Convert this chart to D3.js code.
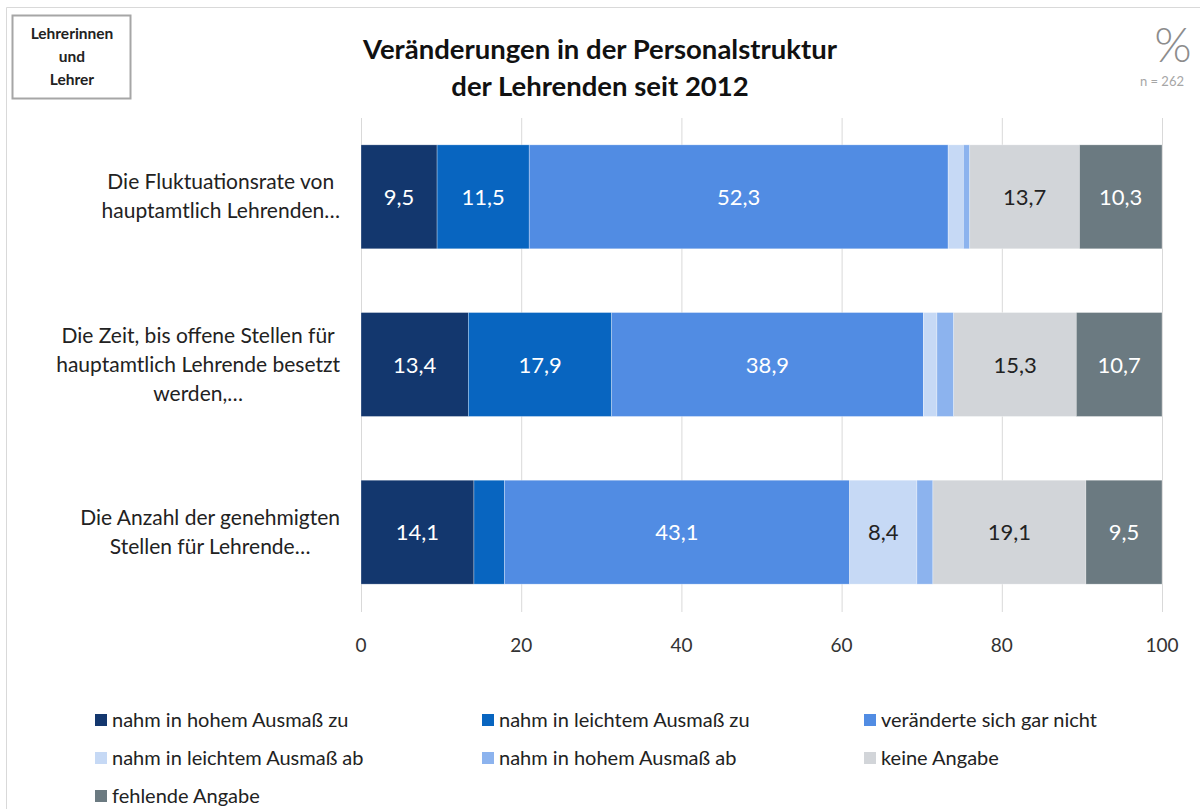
<!DOCTYPE html>
<html>
<head>
  <meta charset="utf-8">
  <script src="https://cdnjs.cloudflare.com/ajax/libs/d3/7.8.5/d3.min.js"></script>
  <style>
    body { margin: 0; background: #fff; font-family: Lato, "Open Sans", sans-serif; }
    .grid line { stroke: #d9d9d9; stroke-width: 1; }
    .tick-label { font-size: 19px; fill: #333; }
    .cat-label { font-size: 21px; fill: #222; }
    .legend text { font-size: 20px; fill: #222; }
    .value { font-size: 22px; }
  </style>
</head>
<body>
  <div id="chart"></div>
  <script>
    // Data
    const categories = [
      ["Die Fluktuationsrate von", "hauptamtlich Lehrenden…"],
      ["Die Zeit, bis offene Stellen für", "hauptamtlich Lehrende besetzt", "werden,…"],
      ["Die Anzahl der genehmigten", "Stellen für Lehrende…"]
    ];
    const seriesNames = [
      "nahm in hohem Ausmaß zu",
      "nahm in leichtem Ausmaß zu",
      "veränderte sich gar nicht",
      "nahm in leichtem Ausmaß ab",
      "nahm in hohem Ausmaß ab",
      "keine Angabe",
      "fehlende Angabe"
    ];
    const seriesColors = ["#13376e", "#0865c0", "#518ce3", "#c6d9f5", "#8cb3ee", "#d2d5d9", "#6b7a81"];
    const labelColors = ["#fff", "#fff", "#fff", "#222", "#222", "#222", "#fff"];
    // values per category, in series order
    const values = [
      [9.5, 11.5, 52.3, 1.9, 0.8, 13.7, 10.3],
      [13.4, 17.9, 38.9, 1.7, 2.1, 15.3, 10.7],
      [14.1, 3.8, 43.1, 8.4, 2.0, 19.1, 9.5]
    ];
    const ticks = [0, 20, 40, 60, 80, 100];
    const minLabel = 5; // segments smaller than this are not labelled

    const W = 1200, H = 809;
    const svg = d3.select("#chart").append("svg")
      .attr("width", W).attr("height", H);

    // outer frame
    svg.append("path")
      .attr("d", `M6.5,${H} V7.5 H${W}`)
      .attr("fill", "none").attr("stroke", "#d9d9d9");

    // group badge
    svg.append("rect")
      .attr("x", 12.5).attr("y", 15.5).attr("width", 118).attr("height", 83)
      .attr("fill", "#fff").attr("stroke", "#a6a6a6").attr("stroke-width", 2);
    svg.append("text")
      .attr("text-anchor", "middle")
      .style("font-size", "15.5px").style("font-weight", "bold").attr("fill", "#222")
      .selectAll("tspan").data(["Lehrerinnen", "und", "Lehrer"]).join("tspan")
        .attr("x", 72).attr("y", (d, i) => 39 + i * 23).text(d => d);

    // title
    svg.append("text")
      .attr("text-anchor", "middle")
      .style("font-size", "27.5px").style("font-weight", "bold").attr("fill", "#111")
      .selectAll("tspan").data(["Veränderungen in der Personalstruktur", "der Lehrenden seit 2012"]).join("tspan")
        .attr("x", 600).attr("y", (d, i) => 59 + i * 37).text(d => d);

    // percent sign and n
    svg.append("text")
      .attr("x", 1173).attr("y", 62).attr("text-anchor", "middle")
      .style("font-size", "48px").style("font-weight", "300").attr("fill", "#8c8c8c")
      .text("%");
    svg.append("text")
      .attr("x", 1184).attr("y", 86).attr("text-anchor", "end")
      .style("font-size", "13px").attr("fill", "#a6a6a6")
      .text("n = 262");

    // scales
    const x = d3.scaleLinear().domain([0, 100]).range([361, 1162]);
    const y = d3.scaleBand().domain(d3.range(categories.length)).range([113, 616]).paddingInner(0.38).paddingOuter(0.19);

    // grid
    svg.append("g").attr("class", "grid")
      .selectAll("line").data(ticks).join("line")
        .attr("x1", d => x(d) + 0.5).attr("x2", d => x(d) + 0.5)
        .attr("y1", 118).attr("y2", 612);

    svg.append("g")
      .selectAll("text").data(ticks).join("text")
        .attr("class", "tick-label")
        .attr("x", d => x(d)).attr("y", 652)
        .attr("text-anchor", "middle")
        .text(d => d);

    // stacked bars
    const rows = values.map((vals, ci) => {
      let acc = 0;
      return vals.map((v, si) => {
        const seg = {ci, si, x0: acc, x1: acc + v, v};
        acc += v;
        return seg;
      });
    });

    const rowG = svg.append("g").selectAll("g").data(rows).join("g");
    rowG.selectAll("rect").data(d => d).join("rect")
      .attr("x", d => x(d.x0))
      .attr("y", d => y(d.ci))
      .attr("width", d => x(d.x1) - x(d.x0))
      .attr("height", y.bandwidth())
      .attr("fill", d => seriesColors[d.si])
      .attr("stroke", "#fff").attr("stroke-width", 0.6).attr("stroke-opacity", 0.5);

    rowG.selectAll("text").data(d => d.filter(s => s.v >= minLabel)).join("text")
      .attr("class", "value")
      .attr("x", d => x((d.x0 + d.x1) / 2))
      .attr("y", d => y(d.ci) + y.bandwidth() / 2 + 8)
      .attr("text-anchor", "middle")
      .attr("fill", d => labelColors[d.si])
      .text(d => d3.format(".1f")(d.v).replace(".", ","));

    // category labels: centered block, widest line ending near x=340
    categories.forEach((lines, ci) => {
      const t = svg.append("text").attr("class", "cat-label").attr("text-anchor", "middle");
      const cy = y(ci) + y.bandwidth() / 2;
      const lh = 29;
      const spans = t.selectAll("tspan").data(lines).join("tspan")
        .attr("y", (d, i) => cy + (i - (lines.length - 1) / 2) * lh + 7)
        .text(d => d);
      let maxW = 0;
      spans.each(function() { maxW = Math.max(maxW, this.getComputedTextLength()); });
      spans.attr("x", 340 - maxW / 2);
    });

    // legend
    const legendCols = [95, 482, 864];
    const legend = svg.append("g").attr("class", "legend")
      .selectAll("g").data(seriesNames).join("g")
        .attr("transform", (d, i) => `translate(${legendCols[i % 3]},${720 + Math.floor(i / 3) * 38})`);
    legend.append("rect")
      .attr("x", 0).attr("y", -6).attr("width", 12).attr("height", 12)
      .attr("fill", (d, i) => seriesColors[i]);
    legend.append("text")
      .attr("x", 17).attr("y", 7)
      .text(d => d);
  </script>
</body>
</html>
